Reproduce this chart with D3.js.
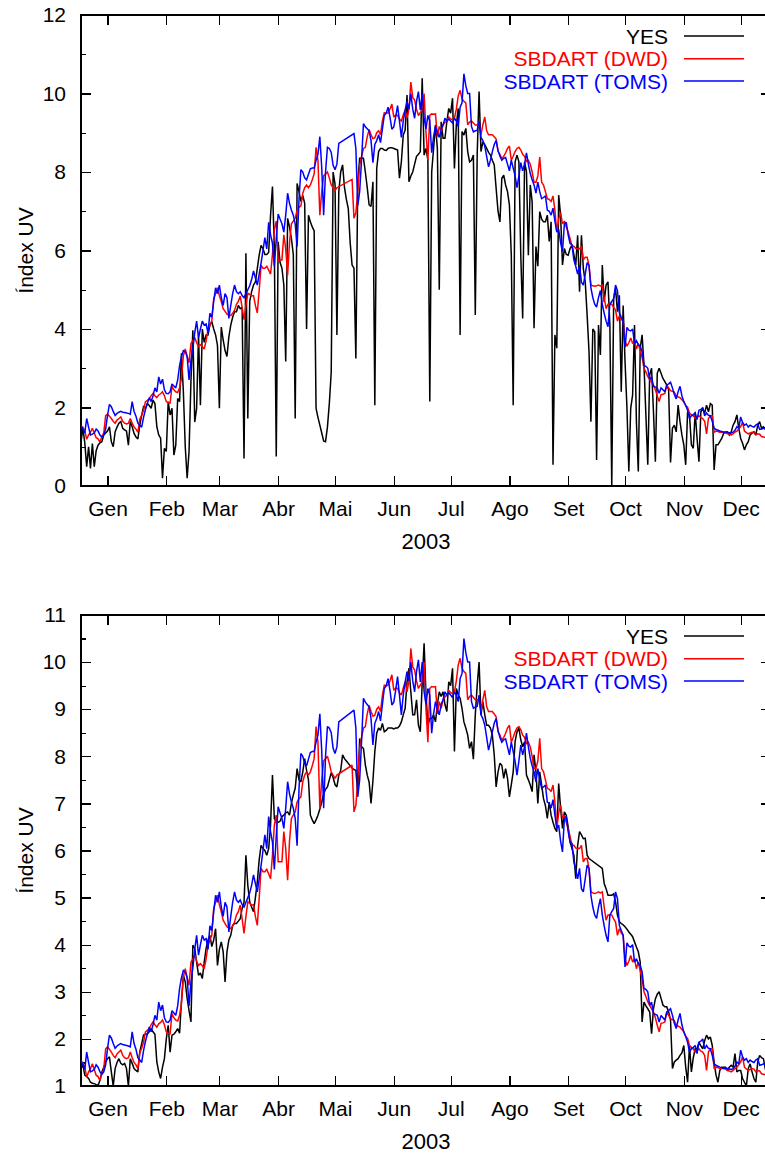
<!DOCTYPE html>
<html><head><meta charset="utf-8">
<script src="https://cdn.jsdelivr.net/npm/d3@7"></script>
<style>
body{margin:0;background:#fff;}
svg text{font-family:"Liberation Sans",Arial,Helvetica,sans-serif;}
</style></head><body>
<svg id="c" width="765" height="1155"></svg>
<script>
const monthLabels = ["Gen","Feb","Mar","Abr","Mai","Jun","Jul","Ago","Set","Oct","Nov","Dec"];
const seriesNames = ["YES","SBDART (DWD)","SBDART (TOMS)"];
const seriesColors = ["#000000","#ff0000","#0000ff"];
const xLabel = "2003";
const yLabel = "Índex UV";
const topYTicks = [0,2,4,6,8,10,12];
const topYMinor = [1,3,5,7,9,11];
const bottomYTicks = [1,2,3,4,5,6,7,8,9,10,11];
const bottomYMinor = [1.5,2.5,3.5,4.5,5.5,6.5,7.5,8.5,9.5,10.5];

// daily values, index 0 = 1 Jan 2003 (null = no data)
const yesTop = [
1.13,1.47,1.1,0.49,1.0,0.45,1.08,0.49,0.9,1.04,
1.1,1.13,1.3,1.35,1.4,1.51,1.13,1.0,1.38,1.5,
1.6,1.64,1.47,1.43,1.4,1.04,1.64,1.51,1.34,1.25,
1.2,1.55,1.8,2.02,1.98,2.1,2.05,1.98,2.19,2.1,
1.51,1.3,1.22,0.2,0.96,0.88,2.15,1.81,1.98,0.79,
1.04,2.23,2.15,3.38,2.4,1.0,0.2,0.88,2.66,3.97,
1.63,1.98,3.85,2.06,4.0,3.66,3.85,3.85,4.1,4.19,
4.0,3.85,3.58,1.98,4.05,3.72,3.45,3.3,3.8,4.1,
4.3,4.44,4.44,4.6,4.52,4.55,0.7,5.93,1.72,4.7,
4.95,5.12,5.2,5.54,5.88,6.13,6.05,5.9,5.9,5.95,
6.9,7.63,6.05,0.75,6.22,5.7,5.55,5.12,3.17,6.82,
6.6,6.3,5.9,1.72,7.71,7.5,7.25,7.4,7.2,4.0,
6.9,6.73,6.6,6.5,1.98,1.75,1.55,1.35,1.15,1.13,
1.5,2.1,2.9,8.0,7.7,3.85,7.5,8.0,8.18,7.6,
7.3,7.07,6.2,5.63,5.55,3.25,7.75,8.35,8.35,8.35,
8.0,7.6,7.16,7.12,7.75,2.06,8.09,8.52,8.6,8.6,
8.56,8.55,8.6,8.62,8.62,8.6,8.58,8.56,7.84,8.26,
8.94,9.07,9.96,7.75,7.9,8.0,8.2,8.4,8.45,8.52,
10.39,8.43,8.6,8.3,2.15,8.0,8.6,9.2,8.6,5.0,
9.28,8.86,8.86,9.28,9.62,9.5,9.88,8.09,9.2,9.62,
3.85,9.03,8.94,9.11,8.52,8.26,8.3,8.43,4.36,8.43,
10.05,8.52,8.77,8.7,8.6,8.5,8.43,8.3,8.18,7.58,
7.0,6.73,7.84,7.92,7.67,7.5,7.16,5.88,2.06,8.26,
8.43,8.26,5.88,4.27,8.26,8.01,5.88,7.67,7.24,4.02,
6.1,5.6,6.99,6.8,6.73,6.73,6.9,6.23,6.73,0.54,
3.85,3.51,7.41,6.9,5.63,6.05,5.9,5.88,6.05,6.14,
5.9,5.63,6.39,4.95,6.39,5.54,5.2,4.36,3.42,1.64,
4.0,3.93,0.66,4.1,3.34,5.63,4.69,5.12,5.2,4.1,
0.0,4.78,5.03,4.44,4.86,2.4,4.6,3.17,2.0,0.37,
1.98,2.32,4.1,1.64,0.37,3.51,3.85,3.08,1.81,0.54,
2.83,3.0,1.89,0.62,2.87,3.0,2.87,2.74,2.66,2.57,
2.45,0.6,1.47,1.55,1.38,2.06,1.64,1.3,1.05,0.54,
1.89,1.81,1.05,0.96,1.89,1.21,0.62,1.89,1.98,1.85,
2.06,1.89,2.1,2.06,0.41,1.05,1.05,1.13,1.21,1.34,
1.36,1.38,1.3,1.38,1.55,1.64,1.81,1.47,1.21,1.09,
0.92,1.05,1.13,1.3,1.35,1.38,1.3,1.55,1.64,1.47,
1.51,1.45,1.4,1.45,1.5];

const yesBottom = [
1.37,1.45,1.23,1.2,1.16,1.08,1.06,1.05,1.03,1.01,
1.12,1.3,1.4,1.51,1.58,1.62,1.3,1.0,1.37,1.5,
1.58,1.48,1.45,1.48,1.37,1.0,1.58,1.48,1.37,1.33,
1.3,1.72,1.9,2.08,2.1,2.11,2.15,2.22,2.15,2.1,
1.51,1.3,1.16,1.4,1.58,2.0,2.29,1.72,2.08,2.1,
2.15,2.22,2.12,2.8,3.35,3.21,2.86,2.6,2.36,3.99,
3.92,3.63,3.35,3.4,3.28,3.63,3.92,4.1,4.2,3.96,
4.1,4.34,3.56,3.9,4.06,3.85,3.21,3.85,4.1,4.2,
4.41,4.45,4.45,4.5,4.55,4.77,4.9,5.9,5.26,4.91,
4.8,4.7,5.0,5.33,5.8,6.11,6.04,6.0,5.9,6.04,
6.54,7.6,6.68,6.6,6.6,6.62,6.72,6.75,6.8,6.82,
6.75,7.0,7.18,7.32,7.74,7.5,7.46,7.67,7.95,7.7,
7.5,6.75,6.65,6.57,6.65,6.75,6.88,7.03,7.2,7.3,
7.35,7.5,7.65,7.55,7.4,7.35,7.6,7.7,8.03,7.95,
7.9,7.85,7.8,7.75,7.72,7.7,7.21,8.38,8.2,8.17,
7.82,7.6,7.45,7.0,7.48,8.1,8.49,8.6,8.55,8.7,
8.52,8.55,8.6,8.6,8.6,8.58,8.6,8.6,8.64,8.73,
8.88,9.02,9.58,9.87,9.37,8.88,8.88,9.2,8.66,8.52,
9.58,10.4,9.3,8.66,8.8,8.8,8.88,8.73,9.1,9.37,
9.27,9.37,9.1,8.95,9.58,9.5,9.87,8.1,9.44,9.3,
9.23,9.02,8.73,8.6,8.45,8.17,8.31,7.94,8.88,9.5,
10.0,8.88,9.16,8.88,8.66,8.66,8.6,8.45,8.03,7.35,
7.67,7.85,7.81,7.53,7.74,7.53,7.14,7.4,7.67,8.31,
8.52,8.6,8.35,8.2,8.31,7.6,7.5,7.39,7.25,8.03,
7.67,7.0,7.67,7.39,7.1,6.95,6.68,7.03,6.75,6.6,
6.47,6.4,7.42,6.9,6.47,6.82,6.75,6.5,6.18,6.04,
5.9,5.4,6.11,6.4,6.33,6.25,6.26,5.9,5.83,null,
null,null,null,null,null,5.62,5.3,5.19,5.05,5.05,
5.05,5.08,4.91,4.63,4.49,4.45,4.42,4.38,4.33,4.27,
4.22,4.17,4.06,3.95,3.85,3.63,2.36,2.78,2.7,2.64,
2.57,2.11,2.64,2.85,2.95,3.0,2.86,2.72,2.68,2.68,
2.57,2.4,1.37,1.51,1.55,1.58,1.65,1.7,1.86,1.4,
1.08,1.86,1.3,1.6,1.79,1.79,1.93,1.85,1.79,1.96,
2.08,2.0,2.04,1.86,1.5,1.23,1.08,1.33,1.4,1.4,
1.4,1.33,1.4,1.44,1.4,1.69,1.3,1.33,1.33,1.16,
1.08,1.0,1.37,1.47,1.3,1.16,1.08,1.51,1.65,1.6,
1.58,1.37,1.4,1.45,1.5];

const sbdartDWD = [
1.5,1.5,1.4,1.19,1.3,1.37,1.47,1.35,1.23,1.2,
1.12,1.26,1.35,1.79,1.83,1.78,1.72,1.65,1.6,1.68,
1.72,1.76,1.65,1.6,1.58,1.6,1.72,1.6,1.5,1.45,
1.37,1.7,1.8,1.93,2.15,2.18,2.22,2.3,2.36,2.3,
2.25,2.32,2.35,2.4,2.3,2.15,2.12,2.11,2.54,2.45,
2.4,2.38,2.5,2.75,3.32,3.49,3.3,3.14,3.63,3.7,
3.78,3.65,3.56,3.6,3.55,3.49,3.7,3.99,4.1,4.2,
4.77,4.9,5.05,4.85,4.7,4.52,4.45,4.38,4.36,4.34,
4.4,4.48,4.63,4.7,4.84,4.55,4.24,4.6,4.91,4.88,
4.84,4.85,4.6,4.41,4.98,5.62,5.55,5.55,5.6,5.5,
5.4,5.9,6.54,6.75,5.76,5.76,5.76,6.4,6.04,5.37,
6.2,6.68,6.75,6.82,7.03,7.1,7.14,7.46,7.6,7.67,
7.6,7.67,7.8,7.95,8.63,8.3,6.9,7.5,7.9,7.95,
8.0,7.85,7.67,7.6,7.53,7.6,null,null,null,null,
null,null,null,7.81,6.82,6.96,7.5,8.17,8.4,8.6,
8.63,8.9,9.08,8.95,8.85,8.87,9.0,9.05,8.95,9.3,
9.51,9.5,9.51,9.6,9.73,9.4,9.45,9.44,9.35,9.3,
9.45,9.58,9.37,9.6,10.29,9.9,9.83,9.6,9.44,9.51,
9.58,10.0,9.0,8.3,9.44,9.48,9.47,9.48,8.9,9.16,
9.02,9.2,9.26,9.3,9.4,9.35,9.33,9.37,9.6,9.94,
10.08,9.87,9.8,9.76,9.2,9.27,9.3,9.25,9.2,9.2,
9.2,8.95,9.2,9.4,9.05,8.95,8.95,8.95,8.9,8.84,
8.52,8.45,8.34,8.4,8.49,8.6,8.66,8.3,8.4,8.52,
8.6,8.63,8.56,8.45,8.4,8.27,8.3,8.2,8.0,7.74,
7.74,7.9,8.38,7.74,7.67,7.5,7.32,7.3,7.25,7.39,
7.03,6.47,6.8,6.97,6.68,6.75,6.6,6.47,6.3,6.11,
6.11,6.05,6.04,6.04,6.11,5.76,5.83,5.83,5.62,5.12,
5.1,5.09,5.1,5.12,5.1,5.12,4.8,4.52,4.63,4.63,
4.63,4.55,4.48,4.2,4.34,4.25,4.2,3.7,3.56,3.65,
3.77,3.63,3.7,3.49,3.63,3.45,3.28,3.0,2.9,2.79,
2.71,2.64,2.57,2.45,2.29,2.15,2.33,2.34,2.36,2.57,
2.5,2.43,2.41,2.39,2.29,2.27,2.25,2.2,2.15,2.05,
2.01,1.86,1.82,1.79,1.72,1.76,1.79,1.74,1.72,1.65,
1.33,1.72,1.79,1.79,1.37,1.4,1.39,1.37,1.37,1.37,
1.36,1.33,1.32,1.3,1.33,1.37,1.4,1.45,1.51,1.62,
1.4,1.36,1.33,1.35,1.37,1.36,1.3,1.33,1.32,1.26,
1.25,1.24,1.24,1.23,1.22];

const sbdartTOMS = [
1.55,1.45,1.35,1.72,1.5,1.3,1.32,1.35,1.45,1.4,
1.3,1.25,1.3,1.45,1.8,2.08,2.02,1.9,1.8,1.85,
1.88,1.9,1.88,1.87,1.86,1.85,1.83,2.15,1.9,1.78,
1.6,1.55,1.5,1.75,1.95,2.1,2.25,2.15,2.3,2.5,
2.4,2.78,2.6,2.72,2.45,2.36,2.35,2.4,2.6,2.55,
2.5,2.7,3.07,3.3,3.45,3.42,3.3,2.7,3.2,3.5,
3.9,4.2,3.78,4.0,4.2,4.1,4.13,3.9,4.4,4.3,
4.7,5.05,4.9,5.12,4.8,4.6,4.9,4.8,4.27,4.6,
4.9,5.12,4.95,4.9,4.95,4.85,4.8,4.9,5.0,5.1,
5.26,5.48,5.3,5.12,5.4,5.68,6.0,6.33,6.04,6.72,
6.4,6.18,5.6,6.3,6.93,6.8,6.68,6.47,6.9,7.46,
7.2,7.03,6.9,6.68,6.1,7.3,8.06,8.0,7.85,7.8,
7.94,8.08,8.1,8.1,8.3,8.45,8.9,8.1,6.9,8.0,
8.63,8.6,8.5,8.17,8.06,8.2,8.73,null,null,null,
null,null,null,null,8.98,8.6,7.14,7.5,8.3,9.23,
9.15,9.1,9.05,8.8,8.24,8.7,8.8,8.95,8.75,9.1,
9.44,9.5,9.65,9.4,9.09,9.15,9.4,9.69,9.3,8.88,
9.3,9.58,9.8,9.6,10.0,9.6,9.37,9.8,10.05,9.58,
10.0,9.37,9.1,9.44,9.3,8.49,8.9,9.16,9.0,8.88,
9.1,9.2,9.37,9.3,9.35,9.3,9.25,9.37,9.3,9.16,
9.65,9.76,10.5,10.2,10.0,10.0,9.16,9.02,9.05,9.06,
9.3,8.88,8.8,8.66,8.4,8.13,8.3,8.52,8.7,8.8,
8.55,8.4,8.3,8.35,8.37,8.2,8.03,8.3,8.1,7.9,
7.6,7.9,8.24,8.03,8.2,8.49,8.2,7.96,7.8,7.67,
7.46,7.74,7.5,7.32,7.35,7.39,7.03,7.0,6.9,7.08,
6.75,6.47,6.54,6.2,5.97,6.68,6.72,6.4,6.18,6.15,
5.76,5.6,5.4,5.62,5.19,5.12,5.4,5.69,5.62,5.05,
4.8,4.63,4.56,4.8,4.98,4.63,4.4,4.2,4.06,4.63,
4.7,4.77,5.12,4.98,4.41,4.3,4.2,3.53,4.04,3.97,
3.95,4.0,3.63,3.7,3.6,3.56,3.42,3.07,3.05,3.0,
2.71,2.78,2.54,2.52,2.5,2.36,2.5,2.45,2.4,2.57,
2.6,2.64,2.5,2.33,2.22,2.4,2.54,2.3,2.15,2.05,
1.93,1.72,1.79,1.82,1.86,1.69,1.93,1.95,2.0,1.79,
1.86,1.8,1.79,1.65,1.47,1.44,1.42,1.4,1.39,1.37,
1.38,1.37,1.36,1.35,1.37,1.42,1.51,1.47,1.76,1.62,
1.55,1.58,1.5,1.55,1.52,1.5,1.55,1.58,1.44,1.45,
1.47,1.45,1.44,1.42,1.43];

const svg = d3.select("#c");
const FONT = 21;
const FONT_LEG = 21;
const LEFT = 81, RIGHT = 771;
const x = d3.scaleTime().domain([new Date(2003,0,1), new Date(2003,11,31)]).range([LEFT, RIGHT]);
const monthMids = d3.range(12).map(m => new Date(2003, m, 15));
const toPts = arr => arr.map((v,i) => ({d: new Date(2003,0,i+1), v})).filter(p => p.v !== null);

function drawPanel(id, off, top, bottom, domain, majors, minors, yesData){
  const y = d3.scaleLinear().domain(domain).range([bottom, top]);
  const g = svg.append("g");
  const clipId = "clip" + id;
  svg.append("clipPath").attr("id", clipId).append("rect")
    .attr("x", LEFT).attr("y", top).attr("width", RIGHT-LEFT).attr("height", bottom-top);

  const style = sel => {
    sel.select(".domain").remove();
    sel.selectAll(".tick line").attr("stroke","#000").attr("stroke-width",1.2).attr("shape-rendering","crispEdges");
    sel.selectAll("text").attr("font-size",FONT).attr("font-family","'Liberation Sans',Arial,sans-serif").attr("fill","#000");
  };
  g.append("g").attr("transform",`translate(0,${bottom})`)
    .call(d3.axisBottom(x).tickValues(monthMids).tickFormat((d,i)=>monthLabels[i]).tickSize(-10).tickPadding(15))
    .call(style);
  g.append("g").attr("transform",`translate(0,${top})`)
    .call(d3.axisTop(x).tickValues(monthMids).tickFormat("").tickSize(-10))
    .call(style);
  g.append("g").attr("transform",`translate(${LEFT},0)`)
    .call(d3.axisLeft(y).tickValues(majors).tickFormat(d3.format("d")).tickSize(-10).tickPadding(15))
    .call(style);
  g.append("g").attr("transform",`translate(${LEFT},0)`)
    .call(d3.axisLeft(y).tickValues(minors).tickFormat("").tickSize(-5))
    .call(style);
  g.append("g").attr("transform",`translate(${RIGHT},0)`)
    .call(d3.axisRight(y).tickValues(majors).tickFormat("").tickSize(-10))
    .call(style);
  g.append("g").attr("transform",`translate(${RIGHT},0)`)
    .call(d3.axisRight(y).tickValues(minors).tickFormat("").tickSize(-5))
    .call(style);

  g.append("rect").attr("x",LEFT).attr("y",top).attr("width",RIGHT-LEFT).attr("height",bottom-top)
    .attr("fill","none").attr("stroke","#000").attr("stroke-width",1.3).attr("shape-rendering","crispEdges");

  const line = d3.line().x(p => x(p.d)).y(p => y(p.v));
  const data = [yesData, sbdartDWD, sbdartTOMS];
  const lg = g.append("g").attr("clip-path",`url(#${clipId})`);
  data.forEach((arr,k) => {
    lg.append("path").datum(toPts(arr)).attr("d", line)
      .attr("fill","none").attr("stroke",seriesColors[k]).attr("stroke-width",1.5)
      .attr("stroke-linejoin","miter").attr("stroke-miterlimit",2);
  });

  const lineY = [36, 58.7, 81];
  seriesNames.forEach((name,k) => {
    g.append("text").attr("x",668).attr("y",off+lineY[k]+7.7)
      .attr("text-anchor","end").attr("font-size",FONT_LEG).attr("fill",seriesColors[k]).text(name);
    g.append("line").attr("x1",684).attr("x2",744).attr("y1",off+lineY[k]).attr("y2",off+lineY[k])
      .attr("stroke",seriesColors[k]).attr("stroke-width",1.5);
  });

  g.append("text").attr("x",(LEFT+RIGHT)/2).attr("y",off+549.3).attr("text-anchor","middle")
    .attr("font-size",22).attr("fill","#000").text(xLabel);
  g.append("text").attr("transform",`translate(33,${(top+bottom)/2}) rotate(-90)`)
    .attr("text-anchor","middle").attr("font-size",FONT).attr("fill","#000").text(yLabel);
}

drawPanel("T", 0, 15, 486, [0,12], topYTicks, topYMinor, yesTop);
drawPanel("B", 600, 615, 1086, [1,11], bottomYTicks, bottomYMinor, yesBottom);
</script>
</body></html>
